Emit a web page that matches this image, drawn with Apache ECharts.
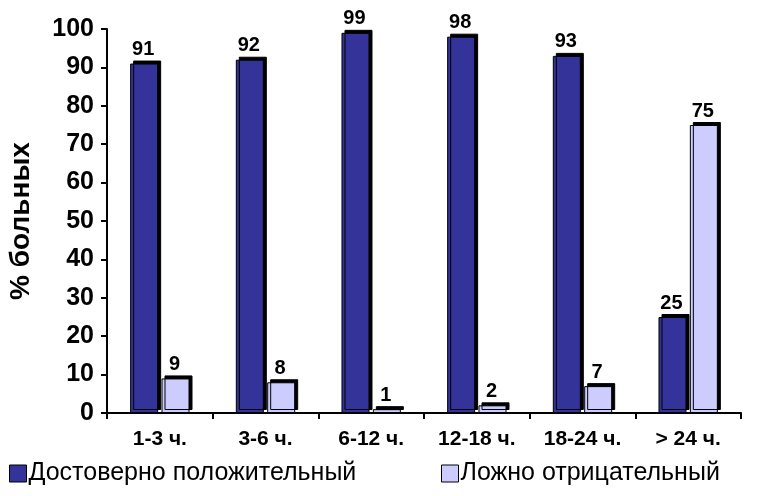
<!DOCTYPE html>
<html>
<head>
<meta charset="utf-8">
<script src="https://cdn.jsdelivr.net/npm/echarts@6/dist/echarts.min.js"></script>
<style>html,body{margin:0;padding:0;background:#fff}#c{width:759px;height:496px}</style>
</head>
<body>
<div id="c"></div>
<script>
const categories = ['1-3 ч.', '3-6 ч.', '6-12 ч.', '12-18 ч.', '18-24 ч.', '> 24 ч.'];
const positiveValues = [91, 92, 99, 98, 93, 25];
const negativeValues = [9, 8, 1, 2, 7, 75];
const seriesNames = ['Достоверно положительный', 'Ложно отрицательный'];
const yAxisName = '% больных';

const FONT = 'Liberation Sans, Arial, sans-serif';
const chart = echarts.init(document.getElementById('c'), null, {renderer: 'canvas'});

function barSeries(name, data, color) {
  return {
    name: name,
    type: 'bar',
    data: data,
    barWidth: 28,
    barGap: '12%',
    itemStyle: {
      color: color,
      borderColor: '#000',
      borderWidth: 1,
      shadowColor: '#000',
      shadowBlur: 0,
      shadowOffsetX: 3,
      shadowOffsetY: -3
    },
    label: {
      show: true,
      position: 'top',
      distance: 4,
      offset: [-1, 0],
      color: '#000',
      fontFamily: FONT,
      fontWeight: 'bold',
      fontSize: 20
    },
    emphasis: {disabled: true}
  };
}

function legendFor(idx, pos) {
  return Object.assign({
    bottom: 5,
    itemWidth: 17,
    itemHeight: 17,
    icon: 'rect',
    textStyle: {fontFamily: FONT, fontSize: 25, color: '#000', padding: [0, 0, 0, -3]},
    itemStyle: {borderColor: '#000', borderWidth: 1, shadowBlur: 0, shadowOffsetX: 0, shadowOffsetY: 0},
    data: [seriesNames[idx]]
  }, pos);
}

chart.setOption({
  animation: false,
  backgroundColor: '#fff',
  grid: {left: 107, right: 18, top: 29, bottom: 83, containLabel: false, outerBoundsMode: 'none'},
  legend: [legendFor(0, {left: 4}), legendFor(1, {left: 436})],
  xAxis: {
    type: 'category',
    data: categories,
    boundaryGap: true,
    axisLine: {lineStyle: {color: '#000', width: 2}},
    axisTick: {show: true, length: 6, lineStyle: {color: '#000', width: 2}},
    axisLabel: {color: '#000', fontFamily: FONT, fontWeight: 'bold', fontSize: 21, margin: 16}
  },
  yAxis: {
    type: 'value',
    min: 0,
    max: 100,
    interval: 10,
    name: yAxisName,
    nameLocation: 'middle',
    nameGap: 72,
    nameTextStyle: {color: '#000', fontFamily: FONT, fontWeight: 'bold', fontSize: 28},
    splitLine: {show: false},
    axisLine: {show: true, lineStyle: {color: '#000', width: 2}},
    axisTick: {show: true, length: 6, lineStyle: {color: '#000', width: 2}},
    axisLabel: {color: '#000', fontFamily: FONT, fontWeight: 'bold', fontSize: 25, margin: 13}
  },
  series: [
    barSeries(seriesNames[0], positiveValues, '#333399'),
    barSeries(seriesNames[1], negativeValues, '#CCCCFF')
  ]
});
</script>
</body>
</html>
